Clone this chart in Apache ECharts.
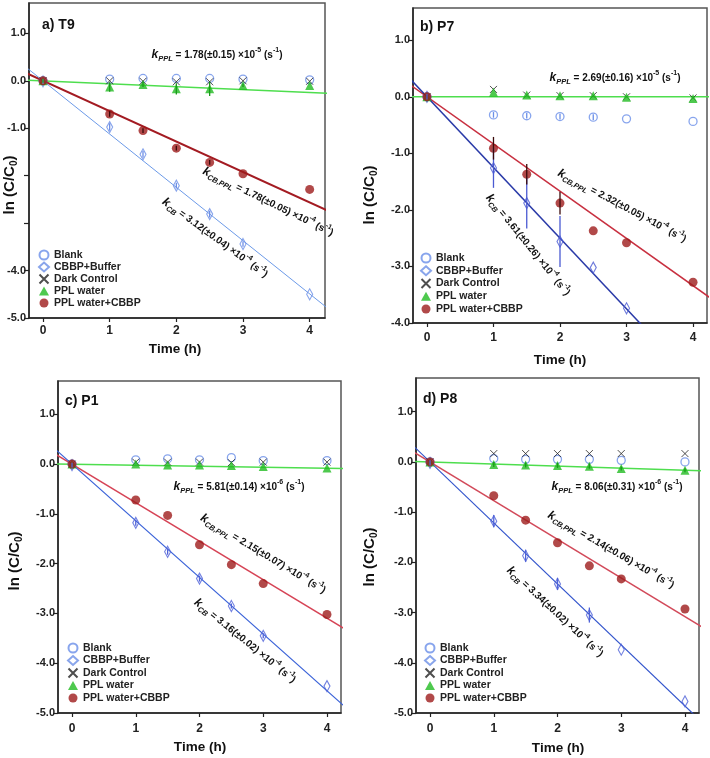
<!DOCTYPE html>
<html>
<head>
<meta charset="utf-8">
<script src="https://cdn.jsdelivr.net/npm/echarts@6/dist/echarts.min.js"></script>
<style>
html,body{margin:0;padding:0;background:#fff;}
#chart{width:710px;height:758px;}
</style>
</head>
<body>
<div id="chart"></div>
<script>
// ---------------- DATA ----------------
const times = [0, 1, 1.5, 2, 2.5, 3, 4];
const xTickValues = [0, 1, 2, 3, 4];
const seriesNames = ['Blank', 'CBBP+Buffer', 'Dark Control', 'PPL water', 'PPL water+CBBP'];
const panelTitles = ['a) T9', 'b) P7', 'c) P1', 'd) P8'];

// Panel a) T9
const blankA    = [0, 0.035, 0.05, 0.05, 0.05, 0.035, 0.02];
const cbbpA     = [-0.01, -0.975, -1.55, -2.21, -2.81, -3.44, -4.5];
const darkA     = [0, 0, -0.01, -0.02, -0.02, 0, -0.01];
const pplA      = [0, -0.13, -0.08, -0.17, -0.17, -0.10, -0.10];
const pplCbbpA  = [0, -0.70, -1.05, -1.42, -1.72, -1.96, -2.29];
// Panel b) P7
const blankB    = [0, -0.32, -0.335, -0.35, -0.36, -0.39, -0.435];
const cbbpB     = [0, -1.26, -1.88, -2.56, -3.02, -3.74, null];
const darkB     = [0, 0.13, 0.03, 0.02, 0.02, 0, -0.02];
const pplB      = [0, 0.08, 0.03, 0.02, 0.02, -0.01, -0.03];
const pplCbbpB  = [0, -0.91, -1.37, -1.88, -2.37, -2.58, -3.28];
// Panel c) P1
const blankC    = [0, 0.087, 0.107, 0.087, 0.13, 0.07, 0.07];
const cbbpC     = [-0.02, -1.18, -1.76, -2.30, -2.85, -3.45, -4.46];
const darkC     = [0, 0.04, 0.04, 0.04, 0.03, 0.04, 0.04];
const pplC      = [0, 0.0, -0.02, -0.02, -0.03, -0.05, -0.08];
const pplCbbpC  = [0, -0.72, -1.03, -1.62, -2.02, -2.40, -3.02];
// Panel d) P8
const blankD    = [0, 0.066, 0.05, 0.05, 0.05, 0.03, 0.0];
const cbbpD     = [-0.02, -1.18, -1.87, -2.43, -3.05, -3.74, -4.77];
const darkD     = [0, 0.165, 0.165, 0.165, 0.165, 0.165, 0.165];
const pplD      = [0, -0.05, -0.06, -0.07, -0.085, -0.13, -0.165];
const pplCbbpD  = [0, -0.675, -1.16, -1.61, -2.07, -2.33, -2.93];

// error bar half-widths (aligned with times; null = none drawn)
const errBlankA = [null, null, null, null, null, null, null];
const errCbbpA  = [0.05, 0.08, 0.07, 0.06, 0.07, 0.06, null];
const errPplA   = [0.04, 0.10, 0.05, 0.12, 0.15, 0.03, null];
const errPcA    = [null, 0.06, 0.05, 0.05, 0.05, null, null];
const errBlankB = [null, 0.05, 0.05, 0.05, 0.05, null, null];
const errCbbpB  = [0.05, 0.35, 0.45, 0.45, null, null, null];
const errPplB   = [null, null, null, null, null, null, null];
const errPcB    = [null, 0.20, 0.18, 0.20, null, null, null];
const errBlankC = [null, null, null, null, null, null, null];
const errCbbpC  = [0.05, 0.06, 0.06, 0.06, 0.05, 0.05, null];
const errPplC   = [null, null, null, null, null, null, null];
const errPcC    = [null, null, null, null, null, null, null];
const errBlankD = [null, null, null, null, null, null, null];
const errCbbpD  = [0.05, 0.12, 0.12, 0.12, 0.15, null, null];
const errPplD   = [null, 0.05, 0.05, 0.05, 0.05, 0.04, 0.04];
const errPcD    = [null, null, null, null, null, null, null];

// fitted first-order lines (ln(C/C0) per hour) as drawn
const slopeCB    = [-1.123, -1.25, -1.138, -1.215];
const slopeCBPPL = [-0.641, -0.835, -0.774, -0.770];
const slopePPL   = [-0.062, 0, -0.021, -0.042];
const fitX = [-0.3, 4.3];

// rate constant annotations
const kPPLVal   = ['1.78(±0.15)', '2.69(±0.16)', '5.81(±0.14)', '8.06(±0.31)'];
const kPPLExp   = ['-5', '-5', '-6', '-6'];
const kCBPPLVal = ['1.78(±0.05)', '2.32(±0.05)', '2.15(±0.07)', '2.14(±0.06)'];
const kCBVal    = ['3.12(±0.04)', '3.61(±0.26)', '3.16(±0.02)', '3.34(±0.02)'];
const kCBExp    = ['-4', '-4', '-4', '-4'];

const yTickValues = [[-5, -4, -3, -2, -1, 0, 1], [-4, -3, -2, -1, 0, 1], [-5, -4, -3, -2, -1, 0, 1], [-5, -4, -3, -2, -1, 0, 1]];
const yLabelValues = [[-5, -4, -1, 0, 1], [-4, -3, -2, -1, 0, 1], [-5, -4, -3, -2, -1, 0, 1], [-5, -4, -3, -2, -1, 0, 1]];

// ---------------- LAYOUT / STYLE ----------------
const panels = [
  {vals: [blankA, cbbpA, darkA, pplA, pplCbbpA], errs: [errBlankA, errCbbpA, null, errPplA, errPcA],
   grid: {left: 29, top: 3, width: 296, height: 315}, yMin: -5, yMax: 1.64, xMin: -0.21, xMax: 4.23, labelMargin: 7,
   blueLine: {color: '#6c9ae8', width: 1}, redLine: {color: '#a31b22', width: 2}, diamond: '#6c8ee6',
   title: [42, 25], yTitle: [10, 185], xTitle: [175, 349], legend: [38, 249, 0],
   ann: [[217, 55, 0], [268, 202, 26], [215, 238, 36]]},
  {vals: [blankB, cbbpB, darkB, pplB, pplCbbpB], errs: [errBlankB, errCbbpB, null, errPplB, errPcB],
   grid: {left: 413, top: 8, width: 294, height: 315}, yMin: -4, yMax: 1.57, xMin: -0.21, xMax: 4.21, labelMargin: 9,
   blueLine: {color: '#2a3aa8', width: 1.5}, redLine: {color: '#c83040', width: 1.5}, diamond: '#4a5ad2',
   title: [420, 27], yTitle: [370, 195], xTitle: [560, 360], legend: [420, 252, 0.75],
   ann: [[615, 78, 0], [622, 206, 28], [528, 245, 51]]},
  {vals: [blankC, cbbpC, darkC, pplC, pplCbbpC], errs: [errBlankC, errCbbpC, null, errPplC, errPcC],
   grid: {left: 58, top: 381, width: 283, height: 332}, yMin: -5, yMax: 1.67, xMin: -0.22, xMax: 4.22, labelMargin: 10,
   blueLine: {color: '#3a62d8', width: 1.2}, redLine: {color: '#d64456', width: 1.5}, diamond: '#4f62d8',
   title: [65, 401], yTitle: [15, 561], xTitle: [200, 747], legend: [67, 642, 0.5],
   ann: [[239, 487, 0], [263, 554, 31], [245, 641, 39]]},
  {vals: [blankD, cbbpD, darkD, pplD, pplCbbpD], errs: [errBlankD, errCbbpD, null, errPplD, errPcD],
   grid: {left: 416, top: 378, width: 283, height: 335}, yMin: -5, yMax: 1.67, xMin: -0.22, xMax: 4.22, labelMargin: 10,
   blueLine: {color: '#3355cc', width: 1.2}, redLine: {color: '#d24a5a', width: 1.5}, diamond: '#4f62d8',
   title: [423, 399], yTitle: [370, 557], xTitle: [558, 748], legend: [424, 642, 0.5],
   ann: [[617, 487, 0], [611, 550, 30], [555, 612, 43]]}
];

const FONT = 'Liberation Sans, Arial, Helvetica, sans-serif';
const symbolDefs = [
  {symbol: 'circle', size: 8, style: c => ({color: 'rgba(0,0,0,0)', borderColor: '#6a8fe8', borderWidth: 1.3})},
  {symbol: 'diamond', size: [6, 11], style: c => ({color: 'rgba(0,0,0,0)', borderColor: c, borderWidth: 1.2})},
  {symbol: 'path://M0,0L10,10M10,0L0,10', size: 7, style: c => ({color: 'rgba(0,0,0,0)', borderColor: '#222', borderWidth: 1})},
  {symbol: 'triangle', size: 9, style: c => ({color: '#22bb22'})},
  {symbol: 'circle', size: 9, style: c => ({color: '#9e1b1b'})}
];
const errColors = ['#6a8fe8', null, '#222', '#1a9a1a', '#3a0a0a'];

const grids = [], xAxes = [], yAxes = [], series = [], legends = [], graphics = [];

const richStyles = {
  k: {fontSize: 12, fontStyle: 'italic', fontWeight: 'bold', fontFamily: FONT, fill: '#111', lineHeight: 16},
  sub: {fontSize: 7.5, fontStyle: 'italic', fontWeight: 'bold', fontFamily: FONT, fill: '#111', verticalAlign: 'bottom'},
  t: {fontSize: 10, fontWeight: 'bold', fontFamily: FONT, fill: '#111', lineHeight: 16},
  sup: {fontSize: 7, fontWeight: 'bold', fontFamily: FONT, fill: '#111', verticalAlign: 'top'}
};
function kText(sub, val, exp) {
  return '{k|k}{sub|' + sub + '}{t| = ' + val + ' ×10}{sup|' + exp + '}{t| (s}{sup|-1}{t|)}';
}

panels.forEach((p, i) => {
  grids.push(Object.assign({show: true, borderColor: '#555', borderWidth: 1.5, backgroundColor: 'transparent'}, p.grid));
  xAxes.push({
    type: 'value', gridIndex: i, min: p.xMin, max: p.xMax,
    axisLine: {show: true, onZero: false, lineStyle: {color: '#222', width: 1.5}},
    axisTick: {show: true, length: 4, lineStyle: {color: '#222', width: 1.2}, customValues: xTickValues},
    axisLabel: {customValues: xTickValues, margin: p.labelMargin, color: '#222', fontSize: 12, fontWeight: 'bold', fontFamily: FONT,
      formatter: v => String(Math.round(v))},
    splitLine: {show: false}
  });
  yAxes.push({
    type: 'value', gridIndex: i, min: p.yMin, max: p.yMax,
    axisLine: {show: true, onZero: false, lineStyle: {color: '#222', width: 1.5}},
    axisTick: {show: true, length: 5, lineStyle: {color: '#222', width: 1.2}, customValues: yTickValues[i]},
    axisLabel: {customValues: yLabelValues[i], margin: 3, color: '#222', fontSize: 11, fontWeight: 'bold', fontFamily: FONT,
      formatter: v => v.toFixed(1)},
    splitLine: {show: false}
  });

  // fit lines
  const lines = [
    {slope: slopePPL[i], color: '#4ede4e', width: 1.5},
    {slope: slopeCBPPL[i], color: p.redLine.color, width: p.redLine.width},
    {slope: slopeCB[i], color: p.blueLine.color, width: p.blueLine.width}
  ];
  lines.forEach(l => {
    series.push({
      type: 'line', name: 'fit', xAxisIndex: i, yAxisIndex: i, symbol: 'none', silent: true, z: 1,
      data: fitX.map(x => [x, l.slope * x]),
      lineStyle: {color: l.color, width: l.width}
    });
  });

  // error bars
  p.vals.forEach((vals, s) => {
    const err = p.errs[s];
    if (!err) return;
    const col = s === 1 ? p.diamond : errColors[s];
    const data = [];
    times.forEach((t, j) => {
      if (err[j] != null && vals[j] != null) data.push([t, vals[j] - err[j], vals[j] + err[j]]);
    });
    if (!data.length) return;
    series.push({
      type: 'custom', name: 'err', xAxisIndex: i, yAxisIndex: i, z: 3, silent: true,
      encode: {x: 0, y: [1, 2]},
      data: data,
      renderItem: (params, api) => {
        const a = api.coord([api.value(0), api.value(1)]);
        const b = api.coord([api.value(0), api.value(2)]);
        return {type: 'line', shape: {x1: a[0], y1: a[1], x2: b[0], y2: b[1]}, style: {stroke: col, lineWidth: 1.3}};
      }
    });
  });

  // scatter series
  p.vals.forEach((vals, s) => {
    const def = symbolDefs[s];
    const col = s === 1 ? p.diamond : null;
    series.push({
      type: 'scatter', name: seriesNames[s], xAxisIndex: i, yAxisIndex: i, z: 2 + s * 0.1,
      symbol: def.symbol, symbolSize: def.size,
      itemStyle: def.style(col),
      data: times.map((t, j) => vals[j] == null ? null : [t, vals[j]]).filter(Boolean)
    });
  });

  legends.push({
    orient: 'vertical', left: p.legend[0], top: p.legend[1], itemGap: p.legend[2],
    itemWidth: 10, itemHeight: 9, padding: 0,
    data: seriesNames, selectedMode: false,
    textStyle: {fontSize: 10.5, fontWeight: 'bold', fontFamily: FONT, color: '#222', lineHeight: 12}
  });

  graphics.push({type: 'text', x: p.title[0], y: p.title[1],
    style: {text: panelTitles[i], font: 'bold 14px ' + FONT, fill: '#111', verticalAlign: 'middle', align: 'left'}});
  graphics.push({type: 'text', x: p.yTitle[0], y: p.yTitle[1], rotation: Math.PI / 2,
    style: {text: '{m|ln (C/C}{s|0}{m|)}', align: 'center', verticalAlign: 'middle',
      rich: {m: {font: 'bold 15px ' + FONT, fill: '#111', lineHeight: 18}, s: {font: 'bold 10px ' + FONT, fill: '#111', verticalAlign: 'bottom'}}}});
  graphics.push({type: 'text', x: p.xTitle[0], y: p.xTitle[1],
    style: {text: 'Time (h)', font: 'bold 13.5px ' + FONT, fill: '#111', align: 'center', verticalAlign: 'middle'}});

  const annTexts = [kText('PPL', kPPLVal[i], kPPLExp[i]), kText('CB,PPL', kCBPPLVal[i], kCBExp[i]), kText('CB', kCBVal[i], kCBExp[i])];
  p.ann.forEach((a, n) => {
    graphics.push({type: 'text', x: a[0], y: a[1], rotation: -a[2] * Math.PI / 180, z: 10,
      style: {text: annTexts[n], rich: richStyles, align: 'center', verticalAlign: 'middle'}});
  });
});

const chart = echarts.init(document.getElementById('chart'), null, {renderer: 'canvas'});
chart.setOption({
  animation: false,
  backgroundColor: '#fff',
  grid: grids, xAxis: xAxes, yAxis: yAxes, series: series, legend: legends,
  graphic: graphics
});
</script>
</body>
</html>
